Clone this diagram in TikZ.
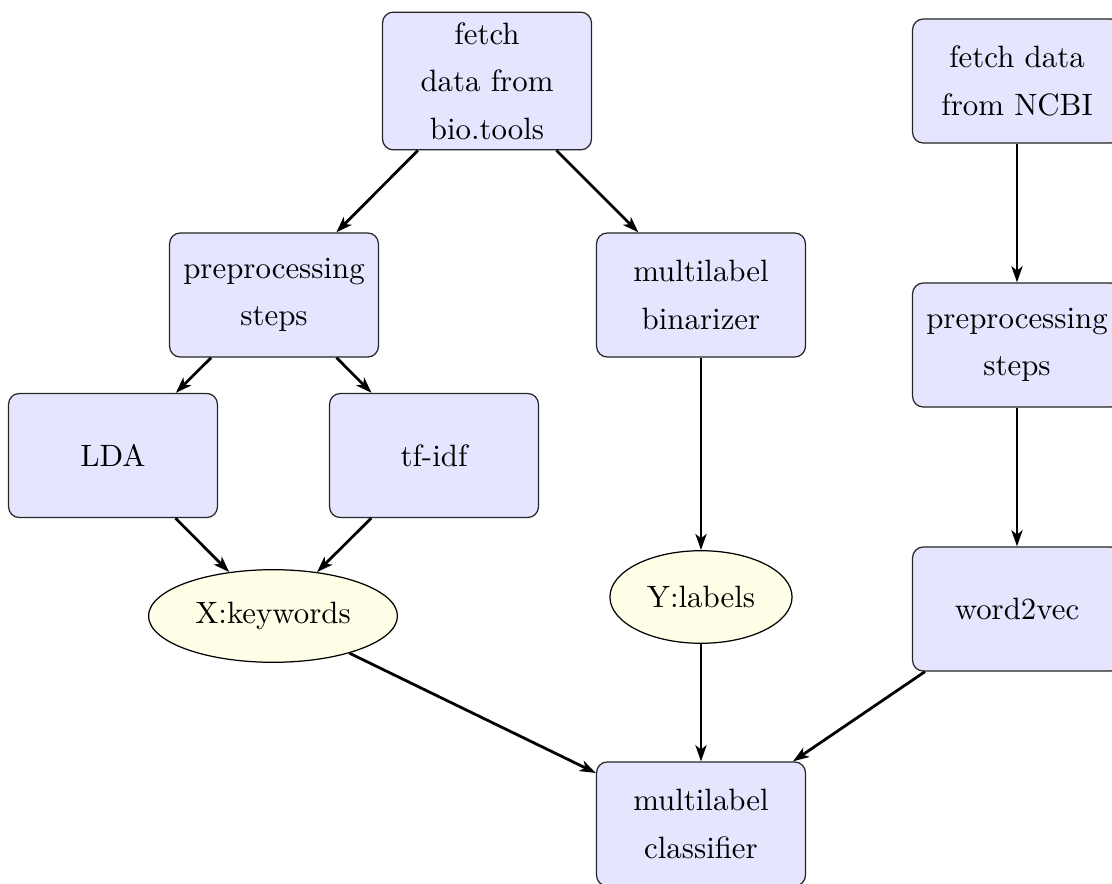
\documentclass[tikz,border=0pt]{standalone}
\usetikzlibrary{shapes.geometric,arrows.meta}
\begin{document}
\begin{tikzpicture}[
  x=0.324pt, y=-0.324pt,
  every node/.style={font=\fontsize{10}{15.4}\selectfont, inner sep=3.33pt},
  box/.style={rectangle, draw=black!85, fill=blue!10, rounded corners=3.5pt,
    align=center, minimum width=67.7pt, minimum height=40.2pt},
  blob/.style={ellipse, draw=black, fill=yellow!10, minimum height=30pt},
  flow/.style={-{Stealth[length=5.2pt,width=3.6pt,inset=1.4pt]}, line width=0.9pt}
]
\useasboundingbox (0,0) rectangle (1112,884);

% left branch: bio.tools data
\node[box] (fetchbio)  at (487,81)    {fetch\\data from\\bio.tools};
\node[box] (prepleft)  at (274,295)   {preprocessing\\steps};
\node[box] (binarizer) at (701,295)   {multilabel\\binarizer};
\node[box] (lda)       at (113,455.5) {LDA};
\node[box] (tfidf)     at (434,455.5) {tf-idf};
\node[blob] (xkeys)    at (273,616)   {X:keywords};
\node[blob] (ylabels)  at (701,597)   {Y:labels};

% right branch: NCBI data
\node[box] (fetchncbi) at (1017,81)  {fetch data\\from NCBI};
\node[box] (prepright) at (1017,345) {preprocessing\\steps};
\node[box] (w2v)       at (1017,609) {word2vec};

% classifier
\node[box] (classifier) at (701,824) {multilabel\\classifier};

\draw[flow] (fetchbio) -- (prepleft);
\draw[flow] (fetchbio) -- (binarizer);
\draw[flow] (prepleft) -- (lda);
\draw[flow] (prepleft) -- (tfidf);
\draw[flow] (lda) -- (xkeys);
\draw[flow] (tfidf) -- (xkeys);
\draw[flow] (binarizer) -- (ylabels);
\draw[flow] (fetchncbi) -- (prepright);
\draw[flow] (prepright) -- (w2v);
\draw[flow] (xkeys) -- (classifier);
\draw[flow] (ylabels) -- (classifier);
\draw[flow] (w2v) -- (classifier);
\end{tikzpicture}
\end{document}
